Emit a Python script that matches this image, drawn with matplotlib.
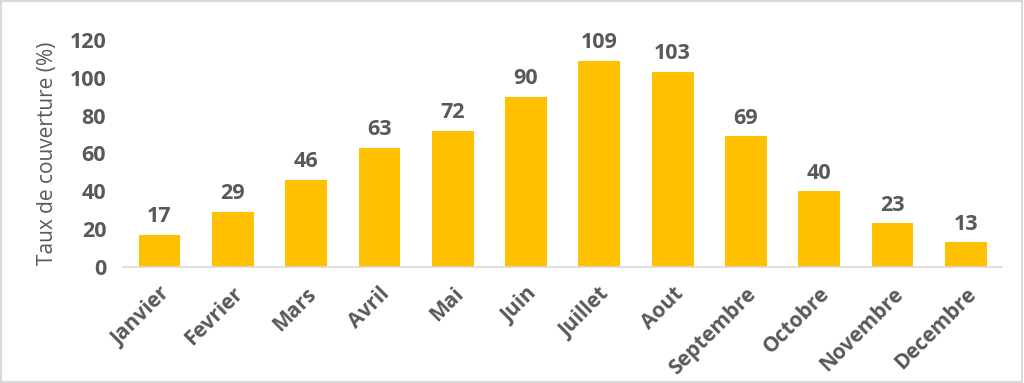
import matplotlib.pyplot as plt
from matplotlib.patches import Rectangle

mois = ['Janvier', 'Fevrier', 'Mars', 'Avril', 'Mai', 'Juin', 'Juillet',
        'Aout', 'Septembre', 'Octobre', 'Novembre', 'Decembre']
taux = [17, 29, 46, 63, 72, 90, 109, 103, 69, 40, 23, 13]

plt.rcParams['font.family'] = ['Open Sans', 'DejaVu Sans']
gris = '#595959'

fig = plt.figure(figsize=(10.24, 3.83), dpi=100)
ax = fig.add_axes([0.120, 0.303, 0.859, 0.593])

x = range(len(mois))
bars = ax.bar(x, taux, width=0.57, color='#FFC000')
for xi, v in zip(x, taux):
    ax.text(xi, v + 4, str(v), ha='center', va='bottom', fontsize=15.5,
            fontweight='bold', color=gris)

ax.set_xlim(-0.5, len(mois) - 0.5)
ax.set_ylim(0, 120)
ax.set_yticks(range(0, 121, 20))
ax.set_xticks(list(x))
ax.set_xticklabels(mois, rotation=45, ha='right', rotation_mode='anchor',
                   fontsize=15, fontweight='bold', color=gris)
for lab in ax.get_yticklabels():
    lab.set_fontsize(15.5)
    lab.set_fontweight('bold')
    lab.set_color(gris)
ax.tick_params(axis='both', length=0)
ax.tick_params(axis='y', pad=12)
ax.tick_params(axis='x', pad=12)

for s in ['top', 'right', 'left']:
    ax.spines[s].set_visible(False)
ax.spines['bottom'].set_color('#D9D9D9')
ax.spines['bottom'].set_linewidth(1.2)

ax.set_ylabel('Taux de couverture (%)', fontsize=15, color=gris, labelpad=8)

fig.patches.append(Rectangle((0.001, 0.002), 0.997, 0.995, transform=fig.transFigure,
                             fill=False, edgecolor='#D9D9D9', linewidth=1.5))

fig.savefig('out.png', dpi=100)
